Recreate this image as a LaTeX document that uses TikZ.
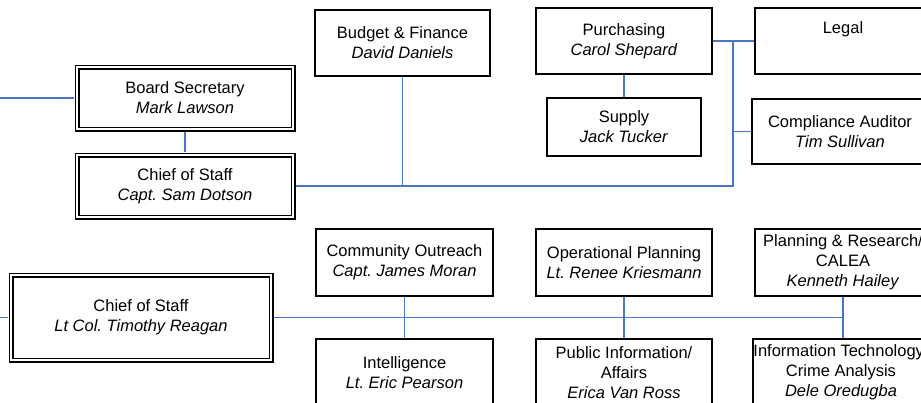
\documentclass[tikz,border=0pt]{standalone}
\usepackage{fontspec}
\setmainfont{Liberation Sans}
\frenchspacing
\definecolor{linkblue}{HTML}{4A78C4}
\begin{document}
\begin{tikzpicture}[x=1pt,y=-1pt,
  font=\fontsize{16.5}{20}\selectfont,
  box/.style={draw=black, line width=1.4pt, align=center, inner sep=0pt, minimum width=#1},
  box/.default=176pt,
  dbox/.style={draw=black, double=white, double distance=2.4pt, line width=1.3pt, align=center, inner sep=0pt, outer sep=2.6pt, minimum width=#1},
  conn/.style={draw=linkblue, line width=1.6pt}]
\useasboundingbox (0,0) rectangle (921,402);
\clip (0,0) rectangle (921,402);
\fill[white] (0,0) rectangle (921,402);
% top group
\node[dbox=216pt, minimum height=62pt] (BS) at (185,98) {Board Secretary\\\textit{Mark Lawson}};
\node[dbox=216pt, minimum height=62pt] (CS1) at (185,186) {Chief of Staff\\\textit{Capt. Sam Dotson}};
\node[box=175pt, minimum height=66pt] (BF) at (402.5,43) {Budget \& Finance\\\textit{David Daniels}};
\node[box=176pt, minimum height=66pt] (PU) at (624,41) {Purchasing\\\textit{Carol Shepard}};
\node[box=154pt, minimum height=58pt] (SU) at (624,127) {Supply\\\textit{Jack Tucker}};
\node[box=176pt, minimum height=66pt] (LE) at (843,41) {Legal\\\strut};
\node[box=176pt, minimum height=65pt] (CA) at (840,131.5) {Compliance Auditor\\\textit{Tim Sullivan}};
% bottom group
\node[dbox=260pt, minimum height=85pt] (CS2) at (141,317.5) {Chief of Staff\\\textit{Lt Col. Timothy Reagan}};
\node[box=177pt, minimum height=67pt] (CO) at (404.5,262.5) {Community Outreach\\\textit{Capt. James Moran}};
\node[box=177pt, minimum height=67pt] (IN) at (404.5,372.5) {Intelligence\\\textit{Lt. Eric Pearson}};
\node[box=176pt, minimum height=67pt] (OP) at (624,262.5) {Operational Planning\\\textit{Lt. Renee Kriesmann}};
\node[box=176pt, minimum height=67pt] (PI) at (624,372.5) {Public Information/\\Affairs\\\textit{Erica Van Ross}};
\node[box=176pt, minimum height=67pt] (PR) at (843,262.5) {Planning \& Research/\\CALEA\\\textit{Kenneth Hailey}};
\node[box=176pt, minimum height=67pt] (IT) at (841,372.5) {Information Technology/\\Crime Analysis\\\textit{Dele Oredugba}};
% connectors top
\coordinate (L1) at (0,98);
\coordinate (J1) at (733,186);
\coordinate (J2) at (733,41);
\draw[conn] (L1) -- (BS.west);
\draw[conn] (BS.south) -- (CS1.north);
\draw[conn] (CS1.east) -- (J1) -- (J2);
\draw[conn] (BF.south) -- (BF.south |- J1);
\draw[conn] (PU.east) -- (LE.west);
\draw[conn] (CA.west -| J1) -- (CA.west);
\draw[conn] (PU.south) -- (SU.north);
% connectors bottom
\coordinate (L2) at (0,317.5);
\coordinate (J4) at (843,317.5);
\draw[conn] (L2) -- (CS2.west);
\draw[conn] (CS2.east) -- (J4);
\draw[conn] (CO.south) -- (IN.north);
\draw[conn] (OP.south) -- (PI.north);
\draw[conn] (PR.south) -- (J4);
\draw[conn] (J4) -- (J4 |- IT.north);
\end{tikzpicture}
\end{document}
